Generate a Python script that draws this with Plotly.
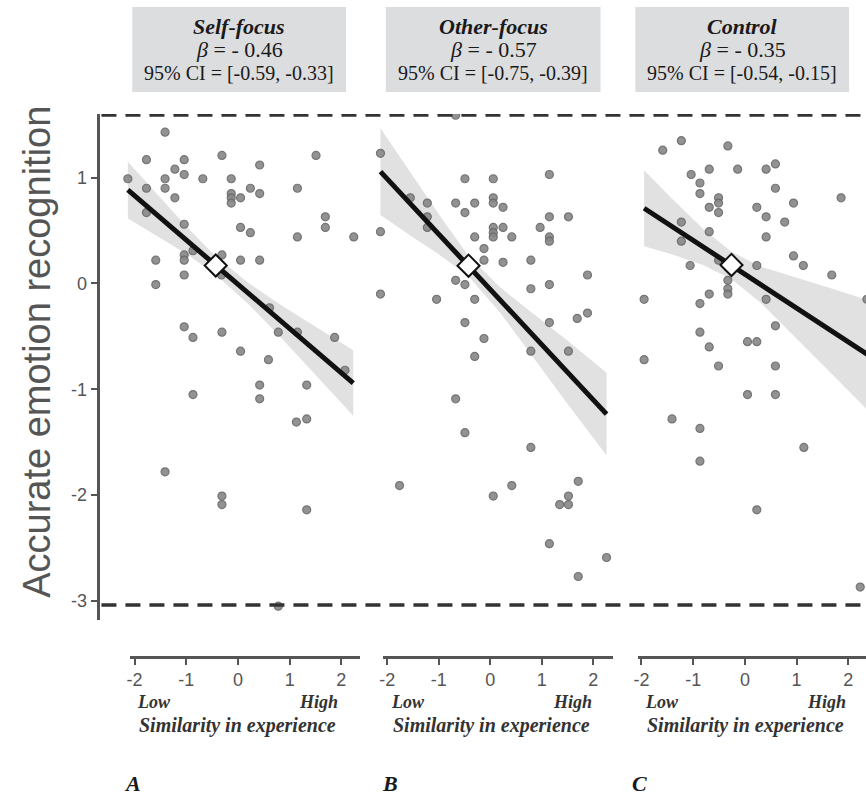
import plotly.graph_objects as go

W, H = 866, 795

# ---------------- data ----------------
panel_titles = ["Self-focus", "Other-focus", "Control"]
beta_labels = ["- 0.46", "- 0.57", "- 0.35"]
ci_labels = ["[-0.59, -0.33]", "[-0.75, -0.39]", "[-0.54, -0.15]"]
panel_letters = ["A", "B", "C"]
x_ticks = [-2, -1, 0, 1, 2]
x_ticktext = ["-2", "-1", "0", "1", "2"]
y_ticks = [1, 0, -1, -2, -3]
y_ticktext = ["1", "0", "-1", "-2", "-3"]
y_title = "Accurate emotion recognition"
x_title = "Similarity in experience"
ref_lines = [1.593, -3.04]

a_x = [-1.41, -1.77, -1.04, -0.31, 1.51, 0.42, -1.22, -1.04, -2.13, -1.41, -0.68, -0.13,
       -1.77, -1.41, 0.24, 1.15, -0.13, 0.42, -1.22, -0.13, -0.13, 0.05, -1.77, 1.69,
       1.69, -1.04, 0.05, 0.24, 1.15, 2.24, -1.59, -1.04, -1.04, -0.87, -0.31, 0.05,
       0.42, -1.04, -0.32, -1.59, 0.61, -1.04, -0.87, -0.31, 0.78, 1.15, 1.87, 0.05,
       0.59, 2.07, 0.42, 1.33, -0.87, 0.42, 1.13, 1.33, -1.41, -0.31, -0.31, 1.33, 0.78]
a_y = [1.43, 1.17, 1.17, 1.21, 1.21, 1.12, 1.08, 1.03, 0.99, 0.99, 0.99, 0.99,
       0.90, 0.90, 0.90, 0.90, 0.85, 0.85, 0.81, 0.81, 0.76, 0.81, 0.67, 0.63,
       0.53, 0.56, 0.53, 0.48, 0.44, 0.44, 0.22, 0.27, 0.22, 0.31, 0.27, 0.22,
       0.22, 0.08, 0.08, -0.01, -0.23, -0.41, -0.51, -0.46, -0.46, -0.46, -0.51, -0.64,
       -0.72, -0.82, -0.96, -0.96, -1.05, -1.09, -1.31, -1.28, -1.78, -2.01, -2.09, -2.14, -3.05]

b_x = [-0.67, -2.13, 1.15, -0.49, 0.06, 0.06, 0.06, -1.22, -0.67, -0.30, 0.25, -0.49,
       -1.55, -1.22, -1.22, 1.15, 1.52, -2.13, 0.06, 0.06, 0.06, 0.25, 0.97, -0.30,
       0.42, 1.15, 1.15, -0.12, -0.12, 0.25, 0.79, 1.89, -0.67, -0.49, 1.15, 0.79,
       -2.13, -1.04, -0.30, 1.89, 1.69, -0.49, 1.15, -0.12, 0.79, 1.52, -0.30, -0.67,
       -0.49, 0.79, -1.76, 0.42, 0.06, 1.71, 1.52, 1.35, 1.52, 1.15, 2.26, 1.71]
b_y = [1.59, 1.23, 1.03, 0.99, 0.99, 0.81, 0.76, 0.76, 0.76, 0.76, 0.72, 0.67,
       0.81, 0.63, 0.53, 0.63, 0.63, 0.49, 0.53, 0.48, 0.44, 0.53, 0.53, 0.44,
       0.44, 0.44, 0.40, 0.33, 0.22, 0.20, 0.22, 0.08, 0.03, -0.01, -0.01, -0.05,
       -0.10, -0.15, -0.15, -0.28, -0.33, -0.37, -0.37, -0.52, -0.64, -0.64, -0.69, -1.09,
       -1.41, -1.55, -1.91, -1.91, -2.01, -1.87, -2.01, -2.09, -2.09, -2.46, -2.59, -2.77]

c_x = [-1.23, -1.59, -0.33, -1.04, -0.69, -0.14, 0.41, 0.59, -0.87, -0.87, 0.59, -0.51,
       -0.51, -0.51, -0.69, 0.23, 0.94, 1.86, 0.41, 0.77, -1.23, -0.69, -1.23, 0.41,
       0.94, 1.13, 1.68, -1.06, -0.51, 0.23, -0.33, -0.33, -0.33, -0.69, -0.87, -1.95,
       0.41, 2.36, -0.87, 0.59, 0.05, 0.23, -0.69, -1.95, -0.51, 0.59, 0.05, 0.59,
       -1.41, -0.87, -0.87, 1.14, 0.23, 2.23]
c_y = [1.35, 1.26, 1.30, 1.03, 1.08, 1.08, 1.08, 1.13, 0.95, 0.85, 0.90, 0.81,
       0.76, 0.67, 0.72, 0.72, 0.76, 0.81, 0.63, 0.58, 0.58, 0.49, 0.40, 0.44,
       0.26, 0.17, 0.08, 0.17, 0.22, 0.17, 0.03, -0.05, -0.10, -0.10, -0.19, -0.15,
       -0.15, -0.15, -0.46, -0.40, -0.55, -0.55, -0.60, -0.72, -0.78, -0.78, -1.05, -1.05,
       -1.28, -1.37, -1.68, -1.55, -2.14, -2.87]

# regression lines (end points), means, confidence bands
a_fit_x = [-2.13, 2.23]
a_fit_y = [0.884, -0.942]
b_fit_x = [-2.13, 2.26]
b_fit_y = [1.057, -1.235]
c_fit_x = [-1.95, 2.40]
c_fit_y = [0.711, -0.68]
mean_x = [-0.43, -0.42, -0.26]
mean_y = [0.17, 0.168, 0.175]

a_band_x = [-2.13, -1.5, -1.0, -0.43, 0.2, 0.8, 1.5, 2.23]
a_band_up = [1.15, 0.81, 0.54, 0.255, 0.006, -0.195, -0.408, -0.63]
a_band_lo = [0.615, 0.43, 0.28, 0.085, -0.194, -0.495, -0.868, -1.25]
b_band_x = [-2.13, -1.5, -1.0, -0.42, 0.2, 0.8, 1.5, 2.26]
b_band_up = [1.467, 1.018, 0.657, 0.259, -0.039, -0.273, -0.538, -0.845]
b_band_lo = [0.647, 0.438, 0.277, 0.069, -0.279, -0.673, -1.138, -1.625]
c_band_x = [-1.95, -1.4, -0.8, -0.26, 0.3, 0.94, 1.6, 2.40]
c_band_up = [1.071, 0.795, 0.513, 0.300, 0.161, 0.066, -0.035, -0.16]
c_band_lo = [0.351, 0.275, 0.173, 0.040, -0.179, -0.494, -0.815, -1.21]

panels = [
    (a_x, a_y, a_fit_x, a_fit_y, a_band_x, a_band_up, a_band_lo),
    (b_x, b_y, b_fit_x, b_fit_y, b_band_x, b_band_up, b_band_lo),
    (c_x, c_y, c_fit_x, c_fit_y, c_band_x, c_band_up, c_band_lo),
]

# ---------------- layout helpers ----------------
def fx(p):
    return p / W

def fy(p):
    return 1 - p / H

plot_top, plot_bot = 114, 620
y_range = [-3.181, 1.602]
panel_dom = [(96, 372), (372, 628), (628, 866)]
panel_rng = [[-2.660, 2.648], [-2.239, 2.703], [-2.235, 2.342]]
axis_dom = [(125.7, 357.2), (380.4, 612), (636.7, 866)]
axis_rng = [[-2.088, 2.363], [-2.077, 2.394], [-2.067, 2.342]]
axis_line_y = 656
box_dom = [(128, 343), (383, 599), (634, 849)]
low_x = [131, 386, 642]
high_x = [337, 592, 848]
letter_x = [118, 377, 629]

fig = go.Figure()
axnames = ["x", "x2", "x3"]
for i, (px_, py_, fx_, fy_, bx, bu, bl) in enumerate(panels):
    xa = axnames[i]
    fig.add_trace(go.Scatter(
        x=bx + bx[::-1], y=bu + bl[::-1], xaxis=xa, yaxis="y",
        mode="lines", fill="toself", fillcolor="#e1e1e1",
        line=dict(width=0), hoverinfo="skip", showlegend=False))
    fig.add_trace(go.Scatter(
        x=px_, y=py_, xaxis=xa, yaxis="y", mode="markers",
        marker=dict(size=8, color="#878787", opacity=0.9,
                    line=dict(color="#676767", width=1.2)),
        showlegend=False))
    fig.add_trace(go.Scatter(
        x=fx_, y=fy_, xaxis=xa, yaxis="y", mode="lines",
        line=dict(color="#111111", width=5), showlegend=False))
    fig.add_trace(go.Scatter(
        x=[mean_x[i]], y=[mean_y[i]], xaxis=xa, yaxis="y", mode="markers",
        marker=dict(symbol="diamond", size=17, color="white",
                    line=dict(color="#111111", width=2)),
        showlegend=False))

layout = dict(
    width=W, height=H, margin=dict(l=0, r=0, t=0, b=0),
    paper_bgcolor="white", plot_bgcolor="rgba(0,0,0,0)",
    showlegend=False,
    yaxis=dict(domain=[fy(plot_bot), fy(plot_top)], range=y_range, anchor="x",
               tickvals=y_ticks, ticktext=y_ticktext, ticks="outside", ticklen=7,
               tickwidth=2, tickcolor="#555555", showline=True, linecolor="#555555",
               linewidth=2.5, showgrid=False, zeroline=False,
               tickfont=dict(family="Liberation Sans", size=18, color="#555555")),
)
for i in range(3):
    key = "xaxis" if i == 0 else f"xaxis{i+1}"
    layout[key] = dict(domain=[fx(panel_dom[i][0]), fx(panel_dom[i][1])],
                       range=panel_rng[i], anchor="y", visible=False)
    n = i + 4
    layout[f"xaxis{n}"] = dict(domain=[fx(axis_dom[i][0]), fx(axis_dom[i][1])],
                               range=axis_rng[i], anchor=f"y{n}", side="bottom",
                               tickvals=x_ticks, ticktext=x_ticktext, ticks="outside",
                               ticklen=6, tickwidth=2, tickcolor="#555555",
                               showline=True, linecolor="#555555", linewidth=2.5,
                               showgrid=False, zeroline=False, fixedrange=True,
                               tickfont=dict(family="Liberation Sans", size=18, color="#555555"))
    layout[f"yaxis{n}"] = dict(domain=[fy(axis_line_y), fy(axis_line_y - 2)], range=[0, 1],
                               anchor=f"x{n}", showline=False, showticklabels=False,
                               ticks="", showgrid=False, zeroline=False, fixedrange=True)
fig.update_layout(**layout)

# invisible helper traces so the stand-alone scale axes are drawn
for i in range(3):
    n = i + 4
    fig.add_trace(go.Scatter(x=x_ticks, y=[0.5] * len(x_ticks), xaxis=f"x{n}", yaxis=f"y{n}",
                             mode="markers", marker=dict(opacity=0), hoverinfo="skip",
                             showlegend=False))

shapes = []
for yv in ref_lines:
    shapes.append(dict(type="line", xref="paper", yref="y", x0=fx(97), x1=1,
                       y0=yv, y1=yv, line=dict(color="#333333", width=3.5, dash="15px,9px")))
for i in range(3):
    shapes.append(dict(type="rect", xref="paper", yref="paper",
                       x0=fx(box_dom[i][0]), x1=fx(box_dom[i][1]),
                       y0=fy(92), y1=fy(7), fillcolor="#dcdddf", line=dict(width=0),
                       layer="below"))
fig.update_layout(shapes=shapes)

serif = "Liberation Serif"
ann = []
for i in range(3):
    cx = fx((box_dom[i][0] + box_dom[i][1]) / 2)
    ann.append(dict(text=f"<b><i>{panel_titles[i]}</i></b>", x=cx, y=fy(27),
                    font=dict(family=serif, size=22, color="#1a1a1a")))
    ann.append(dict(text=f"<i>β</i> = {beta_labels[i]}", x=cx, y=fy(50),
                    font=dict(family=serif, size=22, color="#1a1a1a")))
    ann.append(dict(text=f"95% CI = {ci_labels[i]}", x=cx, y=fy(73),
                    font=dict(family=serif, size=20, color="#1a1a1a")))
    ann.append(dict(text="<b><i>Low</i></b>", x=fx(low_x[i]), y=fy(702), xanchor="left",
                    font=dict(family=serif, size=18, color="#333333")))
    ann.append(dict(text="<b><i>High</i></b>", x=fx(high_x[i]), y=fy(702), xanchor="right",
                    font=dict(family=serif, size=18, color="#333333")))
    ann.append(dict(text=f"<b><i>{x_title}</i></b>",
                    x=fx((low_x[i] + high_x[i]) / 2), y=fy(725),
                    font=dict(family=serif, size=20, color="#333333")))
    ann.append(dict(text=f"<b><i>{panel_letters[i]}</i></b>", x=fx(letter_x[i]), y=fy(783),
                    xanchor="left", font=dict(family=serif, size=22, color="#1a1a1a")))
ann.append(dict(text=y_title, x=fx(32), y=fy(352), textangle=-90,
                font=dict(family="Liberation Sans", size=38, color="#555555")))
for a in ann:
    a.setdefault("xref", "paper")
    a.setdefault("yref", "paper")
    a.setdefault("showarrow", False)
    a.setdefault("xanchor", "center")
    a.setdefault("yanchor", "middle")
fig.update_layout(annotations=ann)

fig.write_html("out.html")
